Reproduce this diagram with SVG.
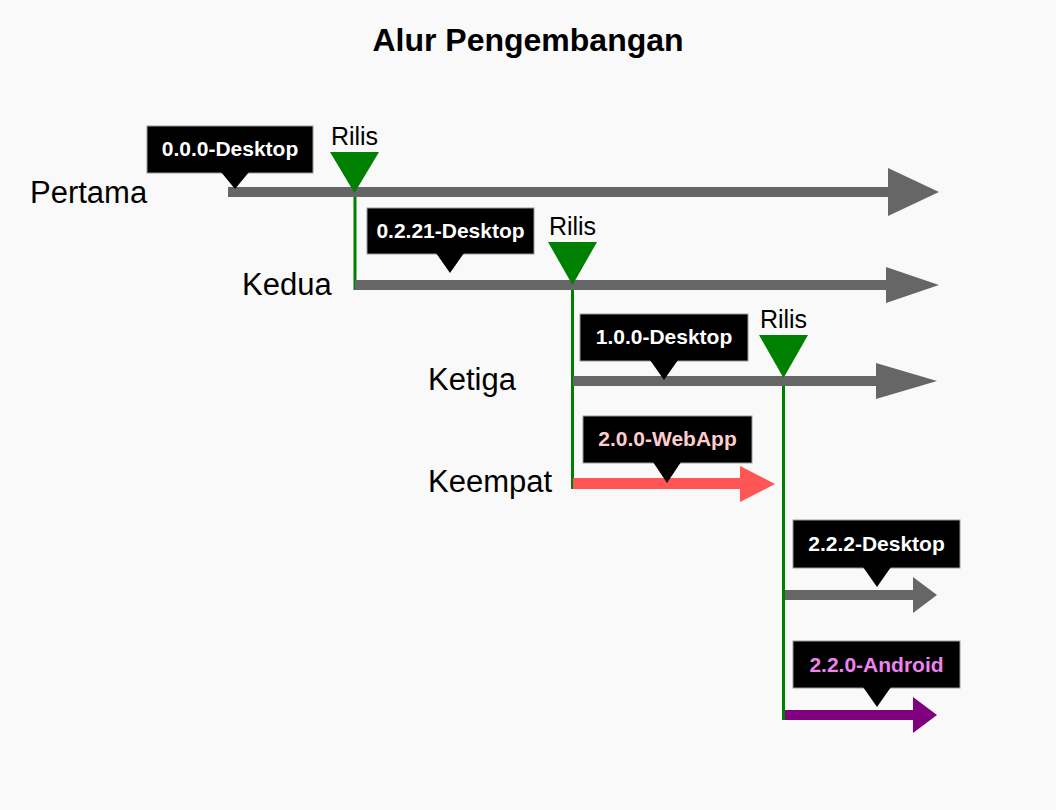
<svg xmlns="http://www.w3.org/2000/svg" width="1056" height="810" viewBox="0 0 1056 810">
<style>
.title{font-family:"Liberation Sans",Arial,sans-serif;font-size:32px;font-weight:bold;fill:#000;text-anchor:middle}
.lbl{font-family:"Liberation Sans",Arial,sans-serif;font-size:31px;fill:#000}
.rilis{font-family:"Liberation Sans",Arial,sans-serif;font-size:25px;fill:#000;text-anchor:middle}
.tag{font-family:"Liberation Sans",Arial,sans-serif;font-size:21px;font-weight:bold;fill:#fff;text-anchor:middle}
.box{fill:#000;stroke:#9a9a9a;stroke-width:1}
.ptr{fill:#000}
.gray{fill:#666666}
.rel{fill:#008000}
.branch{stroke:#008000;stroke-width:3;fill:none}
</style>
<rect x="0" y="0" width="1056" height="810" fill="#f9f9f9"/>
<text class="title" x="528" y="51">Alur Pengembangan</text>

<g id="connectors">
<line class="branch" x1="355" y1="192" x2="355" y2="290"/>
<line class="branch" x1="572.5" y1="285" x2="572.5" y2="489"/>
<line class="branch" x1="783.5" y1="378" x2="783.5" y2="720"/>
</g>

<g id="pertama">
<text class="lbl" x="30" y="203">Pertama</text>
<rect class="gray" x="228" y="187" width="662" height="10"/>
<polygon class="gray" points="888,168 939,192 888,216"/>
</g>
<g id="kedua">
<text class="lbl" x="242" y="295">Kedua</text>
<rect class="gray" x="355" y="280" width="533" height="10"/>
<polygon class="gray" points="886,267 939,285 886,303"/>
</g>
<g id="ketiga">
<text class="lbl" x="428" y="390">Ketiga</text>
<rect class="gray" x="573" y="376" width="305" height="10"/>
<polygon class="gray" points="876,363 937,381 876,399"/>
</g>
<g id="keempat">
<text class="lbl" x="428" y="492">Keempat</text>
<rect x="573" y="478" width="169" height="11" fill="#ff5555"/>
<polygon points="740,466 775,484 740,502" fill="#ff5555"/>
</g>
<g id="desktop-222-line">
<rect class="gray" x="785" y="590" width="130" height="10"/>
<polygon class="gray" points="913,577 937,595 913,613"/>
</g>
<g id="android-line">
<rect x="785" y="710" width="130" height="10" fill="#800080"/>
<polygon points="913,697 937,715 913,733" fill="#800080"/>
</g>

<g id="tag-000">
<rect class="box" x="147" y="126" width="166" height="47"/>
<polygon class="ptr" points="221,172 249,172 235,189"/>
<text class="tag" x="230" y="155.5">0.0.0-Desktop</text>
</g>
<g id="tag-0221">
<rect class="box" x="367" y="208" width="167" height="46"/>
<polygon class="ptr" points="436,253 464,253 450,273"/>
<text class="tag" x="450.5" y="237.5">0.2.21-Desktop</text>
</g>
<g id="tag-100">
<rect class="box" x="580" y="314" width="168" height="47"/>
<polygon class="ptr" points="650,360 678,360 664,380"/>
<text class="tag" x="664" y="343.5">1.0.0-Desktop</text>
</g>
<g id="tag-200">
<rect class="box" x="583" y="416" width="169" height="47"/>
<polygon class="ptr" points="653,462 681,462 667,483"/>
<text class="tag" x="667.5" y="445.5" style="fill:#ffcccc">2.0.0-WebApp</text>
</g>
<g id="tag-222">
<rect class="box" x="793" y="520" width="167" height="48"/>
<polygon class="ptr" points="863,567 891,567 877,587"/>
<text class="tag" x="876.5" y="550.5">2.2.2-Desktop</text>
</g>
<g id="tag-220">
<rect class="box" x="793" y="641" width="167" height="47"/>
<polygon class="ptr" points="863,687 891,687 877,707"/>
<text class="tag" x="876.5" y="671.5" style="fill:#ee82ee">2.2.0-Android</text>
</g>

<g id="rilis-1">
<text class="rilis" x="354.5" y="145">Rilis</text>
<polygon class="rel" points="330,152 379,152 354.5,193"/>
</g>
<g id="rilis-2">
<text class="rilis" x="572.5" y="235">Rilis</text>
<polygon class="rel" points="548,242 597,242 572.5,285"/>
</g>
<g id="rilis-3">
<text class="rilis" x="783.5" y="328">Rilis</text>
<polygon class="rel" points="759,335 808,335 783.5,378"/>
</g>
</svg>
